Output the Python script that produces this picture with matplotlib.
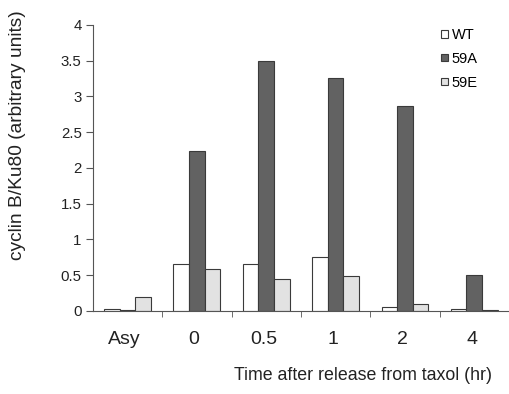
import numpy as np
import matplotlib
matplotlib.use("Agg")
import matplotlib.pyplot as plt

plt.rcParams["font.family"] = ["Liberation Sans", "DejaVu Sans"]

categories = ["Asy", "0", "0.5", "1", "2", "4"]
wt = [0.02, 0.65, 0.66, 0.76, 0.06, 0.03]
a59 = [0.01, 2.24, 3.50, 3.26, 2.86, 0.50]
e59 = [0.19, 0.58, 0.44, 0.49, 0.09, 0.01]

fig = plt.figure(figsize=(5.1, 3.94), dpi=100)
ax = fig.add_axes([0.182, 0.211, 0.816, 0.726])

x = np.arange(len(categories))
w = 0.225
edge = "#3a3a3a"
ax.bar(x - w, wt, w, color="white", edgecolor=edge, linewidth=0.8, label="WT")
ax.bar(x, a59, w, color="#626262", edgecolor=edge, linewidth=0.8, label="59A")
ax.bar(x + w, e59, w, color="#e2e2e2", edgecolor=edge, linewidth=0.8, label="59E")

ax.set_xlim(-0.5, len(categories) - 0.5)
ax.set_ylim(0, 4)
ax.set_yticks(np.arange(0, 4.01, 0.5))
ax.set_yticklabels(["0", "0.5", "1", "1.5", "2", "2.5", "3", "3.5", "4"])
ax.set_xticks(x - 0.04)
ax.set_xticklabels(categories)
ax.set_xticks(np.arange(0.5, len(categories) - 0.5, 1), minor=True)
ax.tick_params(axis="x", which="major", length=0, pad=14.5, labelsize=14, labelcolor="#222222")
ax.tick_params(axis="x", which="minor", length=4, color="#555555")
ax.tick_params(axis="y", length=5, color="#555555", labelsize=10.8, pad=3,
               labelcolor="#222222")

for s in ["top", "right"]:
    ax.spines[s].set_visible(False)
for s in ["left", "bottom"]:
    ax.spines[s].set_color("#555555")

fig.text(18 / 510, 1 - 135 / 394, "cyclin B/Ku80 (arbitrary units)", fontsize=13.8,
         rotation=90, ha="center", va="center", color="#222222")
fig.text(363 / 510, 1 - 375 / 394, "Time after release from taxol (hr)", fontsize=12.8,
         ha="center", va="center", color="#222222")

ax.legend(loc="upper left", bbox_to_anchor=(0.82, 1.015), frameon=False,
          fontsize=10.5, handlelength=0.45, handleheight=0.45, handletextpad=0.25,
          labelspacing=0.68, borderpad=0)

fig.savefig("out.png", dpi=100)
